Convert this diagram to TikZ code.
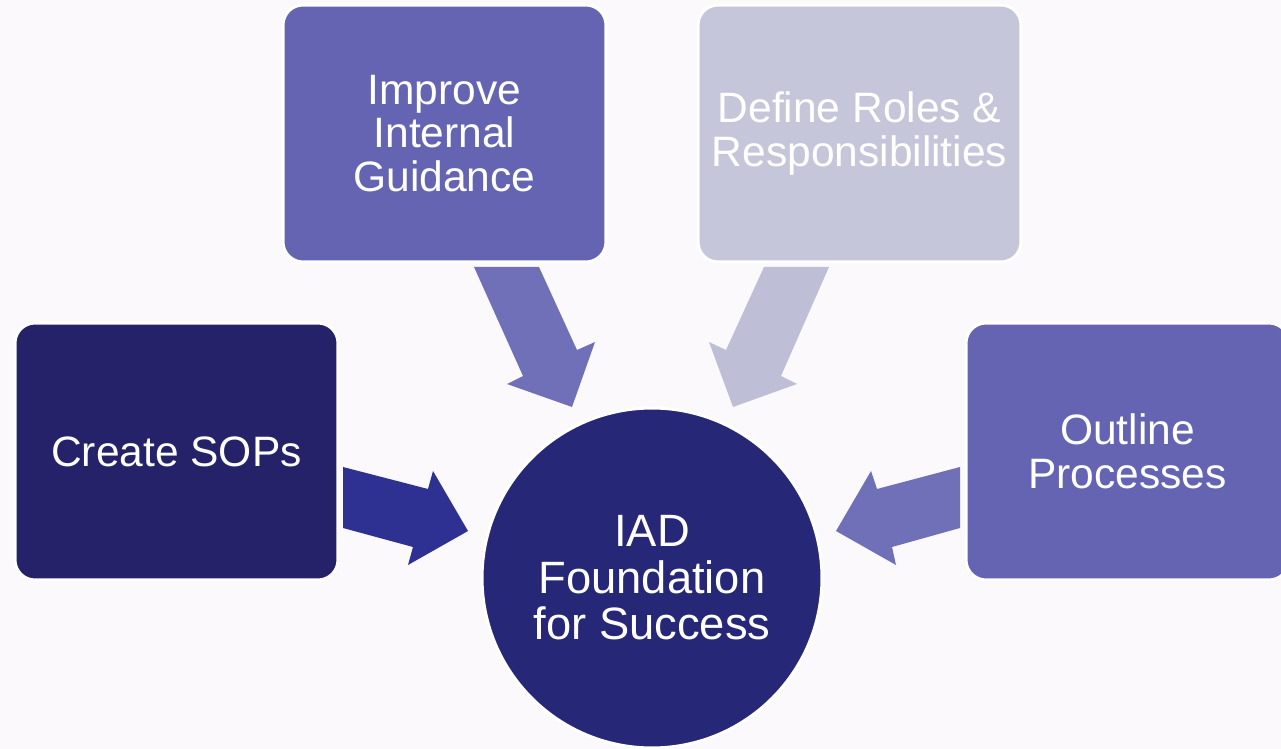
\documentclass[tikz,border=0pt]{standalone}
\usepackage{fontspec}
\setmainfont{Liberation Sans}
\definecolor{bg}{HTML}{FBF9FB}
\definecolor{navy}{HTML}{25226A}
\definecolor{circ}{HTML}{272777}
\definecolor{arrnavy}{HTML}{2E3191}
\definecolor{mid}{HTML}{6464B3}
\definecolor{arrmid}{HTML}{7070B8}
\definecolor{light}{HTML}{C5C6DA}
\definecolor{arrlight}{HTML}{BEBFD6}
\tikzset{
  box/.style={rectangle, rounded corners=0.4cm, draw=white, line width=0.06cm,
    minimum width=6.46cm, minimum height=5.14cm, text=white, align=center,
    font=\fontsize{24.2}{24.8}\selectfont, inner sep=0pt},
  hub/.style={circle, draw=white, line width=0.06cm, fill=circ, minimum size=6.8cm,
    text=white, align=center, font=\fontsize{25.8}{26.4}\selectfont, inner sep=0pt},
  blockarrow/.style={draw=none}
}
\begin{document}
\begin{tikzpicture}[x=0.02cm,y=-0.02cm]
\useasboundingbox (0,0) rectangle (1281,749);
\clip (0,0) rectangle (1281,749);
\fill[bg] (0,0) rectangle (1281,749);
% block arrows
\fill[blockarrow, arrnavy] (343,467) -- (428,489) -- (433,471) -- (468,531) -- (408,565) -- (413,547) -- (343,528) -- cycle;
\fill[blockarrow, arrmid] (474,267) -- (539,267) -- (577,350) -- (595,342) -- (572,407) -- (507,384) -- (523,376) -- cycle;
\fill[blockarrow, arrlight] (829,267) -- (764,267) -- (726,350) -- (709,342) -- (733,407) -- (797,384) -- (781,376) -- cycle;
\fill[blockarrow, arrmid] (960,467) -- (877,489) -- (871,471) -- (836,531) -- (896,565) -- (892,547) -- (960,528) -- cycle;
% boxes
\node[box, fill=navy] (sop) at (176.5,451.5) {Create SOPs};
\node[box, fill=mid] (guide) at (444.5,133.5) {Improve\\Internal\\Guidance};
\node[box, fill=light] (roles) at (859.5,133.5) {Define Roles \&\\Responsibilities};
\node[box, fill=mid] (proc) at (1127.5,451.5) {Outline\\Processes};
\node[hub] (iad) at (652,578) {IAD\\Foundation\\for Success};
\end{tikzpicture}
\end{document}
